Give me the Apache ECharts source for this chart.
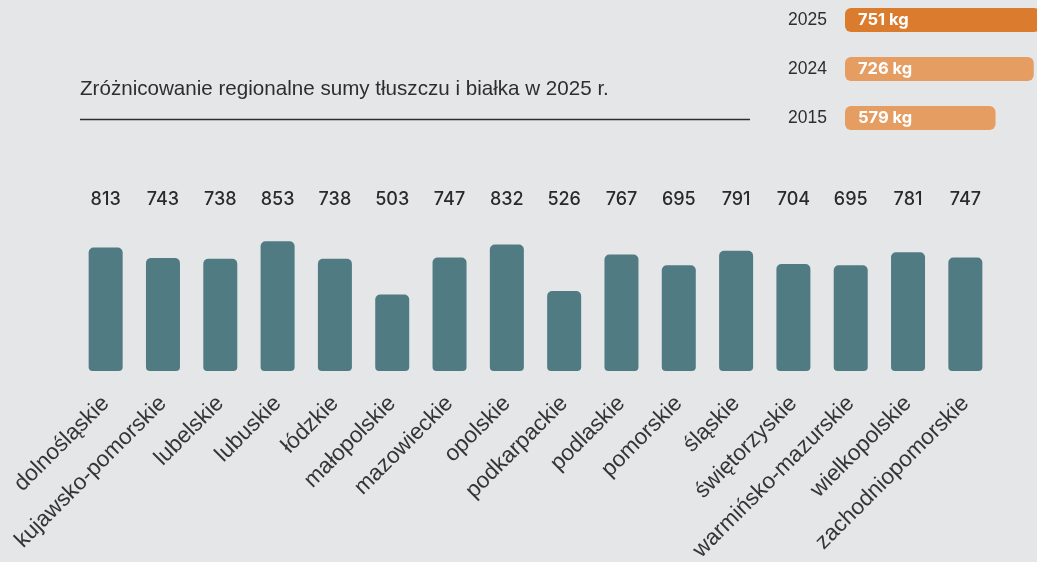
<!DOCTYPE html>
<html>
<head>
<meta charset="utf-8">
<script src="https://cdn.jsdelivr.net/npm/echarts@6/dist/echarts.min.js"></script>
<style>
  html, body { margin: 0; padding: 0; background: #e5e6e8; }
  #main { width: 1037px; height: 562px; }
</style>
</head>
<body>
<div id="main"></div>
<script>
// regional sums of fat and protein, 2025
var regions = ['dolnośląskie', 'kujawsko-pomorskie', 'lubelskie', 'lubuskie', 'łódzkie',
  'małopolskie', 'mazowieckie', 'opolskie', 'podkarpackie', 'podlaskie', 'pomorskie',
  'śląskie', 'świętorzyskie', 'warmińsko-mazurskie', 'wielkopolskie', 'zachodniopomorskie'];
var regionValues = [813, 743, 738, 853, 738, 503, 747, 832, 526, 767, 695, 791, 704, 695, 781, 747];

// national totals
var years = ['2025', '2024', '2015'];
var yearValues = [751, 726, 579];

var titleText = 'Zróżnicowanie regionalne sumy tłuszczu i białka w 2025 r.';

var chart = echarts.init(document.getElementById('main'), null, {renderer: 'canvas'});

var option = {
    backgroundColor: '#e5e6e8',
    animation: false,
    title: {
        text: titleText,
        left: 75,
        top: 74,
        textStyle: {
            fontFamily: 'Liberation Sans',
            fontSize: 20.6,
            fontWeight: 'normal',
            color: '#2e2e2e'
        }
    },
    graphic: [{
        type: 'line',
        shape: {x1: 80, y1: 119.5, x2: 750, y2: 119.5},
        style: {stroke: '#2e2e2e', lineWidth: 1.3}
    }],
    grid: [
        {left: 77, right: 43, top: 219, bottom: 191, outerBoundsMode: 'none', containLabel: false},
        {left: 845, width: 260, top: -4.5, height: 147, outerBoundsMode: 'none', containLabel: false}
    ],
    xAxis: [
        {
            type: 'category',
            gridIndex: 0,
            data: regions,
            axisLine: {show: false},
            axisTick: {show: false},
            axisLabel: {
                interval: 0,
                rotate: 45,
                margin: 29,
                fontFamily: 'Liberation Sans',
                fontSize: 22.5,
                color: '#353535'
            }
        },
        {
            type: 'category',
            gridIndex: 0,
            position: 'top',
            data: regionValues.map(String),
            axisLine: {show: false},
            axisTick: {show: false},
            axisLabel: {
                interval: 0,
                margin: 10,
                fontFamily: 'Inter',
                fontWeight: 500,
                fontSize: 18,
                color: '#2a2a2a'
            }
        },
        {
            type: 'value',
            gridIndex: 1,
            min: 0,
            max: 1000,
            show: false
        }
    ],
    yAxis: [
        {
            type: 'value',
            gridIndex: 0,
            min: 0,
            max: 1000,
            show: false
        },
        {
            type: 'category',
            gridIndex: 1,
            inverse: true,
            data: years,
            axisLine: {show: false},
            axisTick: {show: false},
            axisLabel: {
                margin: 18,
                fontFamily: 'Liberation Sans',
                fontSize: 17.5,
                color: '#2e2e2e'
            }
        }
    ],
    series: [
        {
            type: 'bar',
            xAxisIndex: 0,
            yAxisIndex: 0,
            data: regionValues,
            barWidth: 34,
            itemStyle: {color: '#507b83', borderRadius: [5, 5, 4, 4]}
        },
        {
            type: 'bar',
            xAxisIndex: 2,
            yAxisIndex: 1,
            barWidth: 24,
            data: yearValues.map(function (v, i) {
                return {value: v, itemStyle: {color: i === 0 ? '#db7b2d' : '#e59d62'}};
            }),
            itemStyle: {borderRadius: 6},
            label: {
                show: true,
                position: 'insideLeft',
                distance: 13,
                formatter: '{c} kg',
                fontFamily: 'Inter',
                fontWeight: 'bold',
                fontSize: 16.5,
                color: '#ffffff'
            }
        }
    ]
};

chart.setOption(option);
</script>
</body>
</html>
